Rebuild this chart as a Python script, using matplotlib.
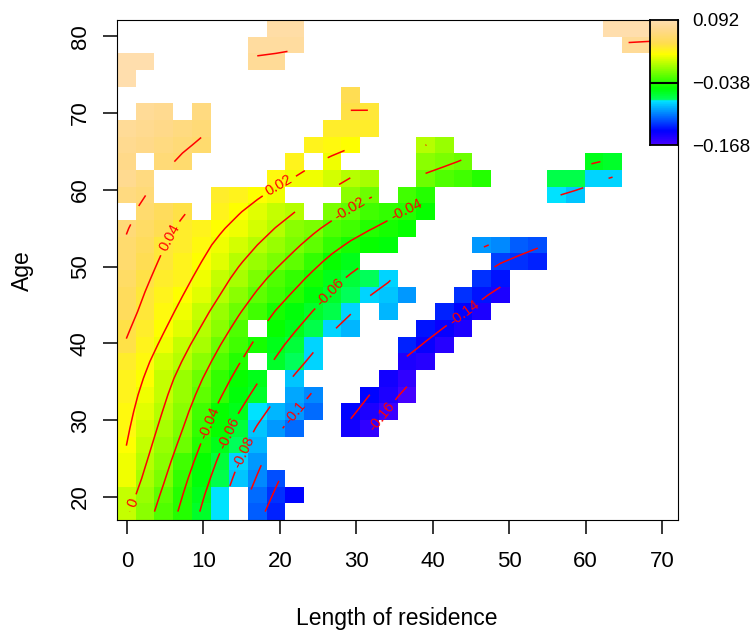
import numpy as np
import matplotlib
matplotlib.use("Agg")
import matplotlib.pyplot as plt
from matplotlib.colors import LinearSegmentedColormap, Normalize

plt.rcParams["font.family"] = ["Liberation Sans", "DejaVu Sans"]
plt.rcParams["contour.negative_linestyle"] = "solid"

n = np.nan

# cell centres of the 30 x 30 image
x_cells = [-0.08, 2.37, 4.82, 7.26, 9.71, 12.16, 14.6, 17.05, 19.5, 21.95,
           24.39, 26.84, 29.29, 31.73, 34.18, 36.63, 39.07, 41.52, 43.97, 46.41,
           48.86, 51.31, 53.75, 56.2, 58.65, 61.09, 63.54, 65.99, 68.43, 70.88]
y_cells = [81.02, 78.85, 76.68, 74.51, 72.34, 70.17, 68.0, 65.83, 63.66, 61.49,
           59.32, 57.15, 54.98, 52.81, 50.64, 48.47, 46.3, 44.13, 41.96, 39.79,
           37.62, 35.45, 33.28, 31.11, 28.94, 26.77, 24.6, 22.43, 20.26, 18.09]

# values, top row first
effect = [
    [n, n, n, n, n, n, n, n, .087, .086,  n, n, n, n, n, n, n, n, n, n,  n, n, n, n, n, n, .09, .09, .088, n],
    [n, n, n, n, n, n, n, .082, .082, .081,  n, n, n, n, n, n, n, n, n, n,  n, n, n, n, n, n, n, .078, .078, n],
    [.09, .09, n, n, n, n, n, .079, .078, n,  n, n, n, n, n, n, n, n, n, n,  n, n, n, n, n, n, n, n, n, n],
    [.088, n, n, n, n, n, n, n, n, n,  n, n, n, n, n, n, n, n, n, n,  n, n, n, n, n, n, n, n, n, n],
    [n, n, n, n, n, n, n, n, n, n,  n, n, .045, n, n, n, n, n, n, n,  n, n, n, n, n, n, n, n, n, n],
    [n, .078, .074, n, .067, n, n, n, n, n,  n, n, .041, .039, n, n, n, n, n, n,  n, n, n, n, n, n, n, n, n, n],
    [.076, .073, .07, .067, .062, n, n, n, n, n,  n, .032, .033, .033, n, n, n, n, n, n,  n, n, n, n, n, n, n, n, n, n],
    [.072, .069, .066, .062, .058, n, n, n, n, n,  .03, .025, .019, n, n, n, .001, -.006, n, n,  n, n, n, n, n, n, n, n, n, n],
    [.07, n, .062, .058, n, n, n, n, n, .03,  n, .018, n, n, n, n, -.012, -.016, -.021, n,  n, n, n, n, n, -.058, -.062, n, n, n],
    [.072, .066, n, n, n, n, n, n, .024, .018,  .016, .009, -.001, -.005, n, n, -.021, -.028, -.032, -.04,  n, n, n, -.07, -.068, -.079, -.081, n, n, n],
    [.067, .06, n, n, n, .035, .029, .021, .016, n,  n, n, -.012, -.019, n, -.032, -.04, n, n, n,  n, n, n, -.078, -.083, n, n, n, n, n],
    [n, .056, .05, .042, n, .028, .02, .014, .006, .001,  n, -.016, -.023, -.03, -.035, -.041, -.047, n, n, n,  n, n, n, n, n, n, n, n, n, n],
    [.061, .052, .044, .035, .028, .021, .015, .007, .001, -.01,  -.016, -.026, -.033, -.04, -.046, -.05, n, n, n, n,  n, n, n, n, n, n, n, n, n, n],
    [.058, .048, .039, .032, .024, .016, .008, .001, -.008, -.016,  -.025, -.036, -.043, -.047, -.052, n, n, n, n, -.098,  -.103, -.112, -.118, n, n, n, n, n, n, n],
    [.056, .046, .038, .03, .022, .012, .002, -.006, -.015, -.024,  -.036, -.047, -.055, n, n, n, n, n, n, n,  -.12, -.125, -.13, n, n, n, n, n, n, n],
    [.052, .042, .033, .027, .016, .006, -.004, -.017, -.028, -.035,  -.045, -.055, -.066, -.074, -.082, n, n, n, n, -.125,  -.135, n, n, n, n, n, n, n, n, n],
    [.05, .038, .03, .02, .011, .002, -.01, -.022, -.033, -.041,  -.052, -.061, -.072, -.0805, -.085, -.095, n, n, -.125, -.135,  -.15, n, n, n, n, n, n, n, n, n],
    [.048, .036, .026, .016, .006, -.006, -.018, -.03, -.044, -.052,  -.06, -.07, -.081, n, -.09, n, n, -.128, -.139, -.148,  n, n, n, n, n, n, n, n, n, n],
    [.041, .032, .022, .011, .002, -.013, -.028, n, -.05, -.057,  -.067, -.079, -.087, n, n, n, -.135, -.142, -.15, n,  n, n, n, n, n, n, n, n, n, n],
    [.04, .028, .017, .006, -.005, -.02, -.033, -.044, -.056, -.066,  -.081, n, n, n, n, -.13, -.14, -.152, n, n,  n, n, n, n, n, n, n, n, n, n],
    [.033, .023, .009, -.001, -.012, -.026, -.04, n, -.06, -.071,  -.082, n, n, n, n, -.148, -.155, n, n, n,  n, n, n, n, n, n, n, n, n, n],
    [.03, .019, .006, -.006, -.018, -.035, -.047, -.057, n, -.085,  n, n, n, n, -.146, -.157, n, n, n, n,  n, n, n, n, n, n, n, n, n, n],
    [.027, .016, .004, -.009, -.022, -.038, -.051, -.061, n, -.092,  -.102, n, n, -.139, -.15, -.166, n, n, n, n,  n, n, n, n, n, n, n, n, n, n],
    [.025, .012, -.001, -.013, -.033, -.047, -.058, -.075, -.088, -.098,  -.108, n, -.138, -.148, -.162, n, n, n, n, n,  n, n, n, n, n, n, n, n, n, n],
    [.023, .009, -.004, -.016, -.036, -.05, -.066, -.086, -.097, -.11,  n, n, -.145, -.158, n, n, n, n, n, n,  n, n, n, n, n, n, n, n, n, n],
    [.02, .005, -.009, -.021, -.041, -.058, -.072, -.09, n, n,  n, n, n, n, n, n, n, n, n, n,  n, n, n, n, n, n, n, n, n, n],
    [.018, .001, -.013, -.03, -.048, -.064, -.082, -.098, n, n,  n, n, n, n, n, n, n, n, n, n,  n, n, n, n, n, n, n, n, n, n],
    [.016, -.004, -.017, -.034, -.052, -.068, -.086, -.099, -.116, n,  n, n, n, n, n, n, n, n, n, n,  n, n, n, n, n, n, n, n, n, n],
    [.006, -.008, -.022, -.04, -.058, -.075, n, -.108, -.124, -.138,  n, n, n, n, n, n, n, n, n, n,  n, n, n, n, n, n, n, n, n, n],
    [.003, -.012, -.027, -.042, -.062, -.078, n, -.115, -.128, n,  n, n, n, n, n, n, n, n, n, n,  n, n, n, n, n, n, n, n, n, n],
]

contour_levels = [-0.16, -0.14, -0.12, -0.1, -0.08, -0.06, -0.04, -0.02, 0, 0.02, 0.04, 0.06, 0.08]
x_ticks = [0, 10, 20, 30, 40, 50, 60, 70]
y_ticks = [20, 30, 40, 50, 60, 70, 80]
scale_low, scale_mid, scale_high = -0.168, -0.038, 0.092
scale_labels = ["\u22120.168", "\u22120.038", "0.092"]

# colour scale: stops as (value, colour)
stops = [(-0.168, "#4400FF"), (-0.14, "#0000FF"), (-0.0765, "#00E5FF"),
         (-0.0764, "#00FF66"), (-0.05, "#00FF00"), (0.022, "#FFFF00"),
         (0.045, "#FFDD50"), (0.072, "#FFD98A"), (0.092, "#FFDEAD")]
norm = Normalize(scale_low, scale_high)
cmap = LinearSegmentedColormap.from_list(
    "effect", [(float(norm(v)), c) for v, c in stops], N=64)


def soften(z):
    """Local plane fit over the filled neighbours, so hand read cells give smooth contours."""
    out = z.copy()
    rows, cols = z.shape
    tri = [1.0, 2.0, 3.0, 2.0, 1.0]
    for i in range(rows):
        for j in range(cols):
            if np.isnan(z[i, j]):
                continue
            pts, vals, wts = [], [], []
            for di in range(-2, 3):
                for dj in range(-2, 3):
                    a, b = i + di, j + dj
                    if 0 <= a < rows and 0 <= b < cols and not np.isnan(z[a, b]):
                        pts.append([1.0, di, dj])
                        vals.append(z[a, b])
                        wts.append(tri[di + 2] * tri[dj + 2])
            A = np.array(pts)
            if np.linalg.matrix_rank(A) < 3 or len(pts) < 5:
                continue
            w = np.sqrt(np.array(wts))
            coef = np.linalg.lstsq(A * w[:, None], np.array(vals) * w, rcond=None)[0]
            out[i, j] = coef[0]
    return out


W, H = 754, 635
fig = plt.figure(figsize=(W / 100, H / 100), dpi=100)
ax = fig.add_axes([117 / W, 1 - 520 / H, 561 / W, 500 / H])

z = np.array(effect, dtype=float)
ax.pcolormesh(x_cells, y_cells, z, cmap=cmap, norm=norm, shading="nearest")

cs = ax.contour(x_cells, y_cells, soften(z), levels=contour_levels, colors="red", linewidths=1.1)
label_spots = [(1.4, 19), (5.6, 53.7), (19.7, 60.9), (29.5, 57), (36.7, 57.1),
               (26.9, 46.3), (43.9, 44.3), (33.5, 30.3), (11.2, 29.4),
               (13.7, 28.1), (16.1, 25.5), (22.4, 30.7)]
ax.clabel(cs, inline=True, fontsize=10.5, fmt="%g", colors="red", manual=label_spots)

ax.set_xlim(-1.3, 72.1)
ax.set_ylim(17, 82.1)
ax.set_xticks(x_ticks)
ax.set_yticks(y_ticks)
ax.tick_params(axis="x", length=10, width=1.1, labelsize=16, pad=12)
ax.tick_params(axis="y", length=10, width=1.1, labelsize=16, pad=9)
for lab in ax.get_yticklabels():
    lab.set_rotation(90)
    lab.set_va("center")
fig.text(397 / W, 1 - 618 / H, "Length of residence", ha="center", va="center", fontsize=16.5)
fig.text(22 / W, 1 - 271 / H, "Age", ha="center", va="center", rotation=90, fontsize=16.5)

# colour bar in the top right corner
cax = fig.add_axes([650 / W, 1 - 145 / H, 28 / W, 125 / H])
ramp = np.linspace(scale_low, scale_high, 64).reshape(-1, 1)
cax.imshow(ramp, cmap=cmap, norm=norm, origin="lower", aspect="auto",
           extent=[0, 1, scale_low, scale_high])
cax.axhline(scale_mid, color="black", lw=1.5)
cax.set_xticks([])
cax.yaxis.tick_right()
cax.set_yticks([scale_low, scale_mid, scale_high])
cax.set_yticklabels(scale_labels)
cax.tick_params(axis="y", length=0, labelsize=13.5, pad=10)
for side in cax.spines.values():
    side.set_linewidth(1.3)

fig.savefig("out.png", dpi=100)
